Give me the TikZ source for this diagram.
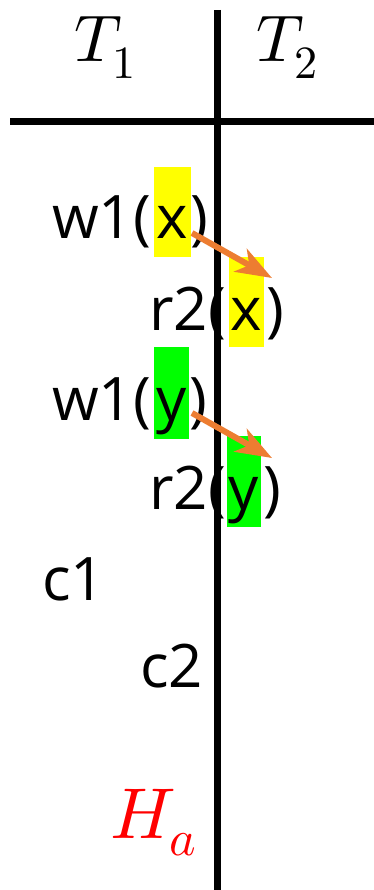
\documentclass[tikz,border=0pt]{standalone}
\usepackage{fontspec}
\usepackage{unicode-math}
\setmainfont{Open Sans}
\setmathfont{Latin Modern Math}
\usetikzlibrary{arrows.meta,calc}
\definecolor{hlyellow}{RGB}{255,255,0}
\definecolor{hlgreen}{RGB}{0,255,0}
\definecolor{arrorange}{RGB}{237,125,49}
\tikzset{
  txt/.style={inner sep=0pt,outer sep=0pt,font=\fontsize{60}{64}\selectfont},
  mathlbl/.style={inner sep=0pt,outer sep=0pt,font=\fontsize{66}{70}\selectfont},
  hlbox/.style={draw=none,inner sep=0pt,outer sep=0pt,minimum width=#1},
  rule/.style={line width=7pt},
  flow/.style={draw=arrorange,line width=6pt,-{Stealth[length=36pt,width=26pt,inset=10pt]}}
}
\begin{document}
\begin{tikzpicture}[x=1pt,y=-1pt]
\useasboundingbox (0,0) rectangle (374,890);
% highlights
\node[hlbox=37pt,fill=hlyellow,minimum height=90pt] (hx1) at (172.5,212) {};
\node[hlbox=35pt,fill=hlyellow,minimum height=90pt] (hx2) at (246.5,302) {};
\node[hlbox=35pt,fill=hlgreen,minimum height=92pt] (hy1) at (171.5,393) {};
\node[hlbox=34pt,fill=hlgreen,minimum height=91pt] (hy2) at (244,481.5) {};
% headers
\node[mathlbl,anchor=base west] (t1) at (74,62) {$T_1$};
\node[mathlbl,anchor=base west] (t2) at (256,62) {$T_2$};
% operations
\node[txt,anchor=base east] (w1xa) at (151,239) {w1(};
\node[txt,anchor=base] (x1) at (hx1.center |- 0,239) {x};
\node[txt,anchor=base west] (w1xb) at (190,239) {)};
\node[txt,anchor=base east] (r2xa) at (226,330) {r2(};
\node[txt,anchor=base] (x2) at (hx2.center |- 0,330) {x};
\node[txt,anchor=base west] (r2xb) at (266,330) {)};
\node[txt,anchor=base east] (w1ya) at (151,420) {w1(};
\node[txt,anchor=base] (y1) at (hy1.center |- 0,420) {y};
\node[txt,anchor=base west] (w1yb) at (189,420) {)};
\node[txt,anchor=base east] (r2ya) at (226,509) {r2(};
\node[txt,anchor=base] (y2) at (hy2.center |- 0,509) {y};
\node[txt,anchor=base west] (r2yb) at (263,509) {)};
\node[txt,anchor=base west] (c1) at (42,600) {c1};
\node[txt,anchor=base west] (c2) at (140,687) {c2};
\node[inner sep=0pt,outer sep=0pt,font=\fontsize{72}{76}\selectfont,text=red,anchor=base west] (ha) at (110,838) {$H_a$};
% axes
\coordinate (vtop) at (217,10);
\coordinate (vbot) at (217,890);
\coordinate (hleft) at (10,122);
\coordinate (hright) at (374,122);
\draw[rule] (vtop) -- (vbot);
\draw[rule] (hleft) -- (hright);
% arrows
\draw[flow] ($(hx1.east)+(1,21)$) -- ($(hx2.north east)+(8,21)$);
\draw[flow] ($(hy1.east)+(3,20)$) -- ($(hy2.north east)+(11,22)$);
\end{tikzpicture}
\end{document}
